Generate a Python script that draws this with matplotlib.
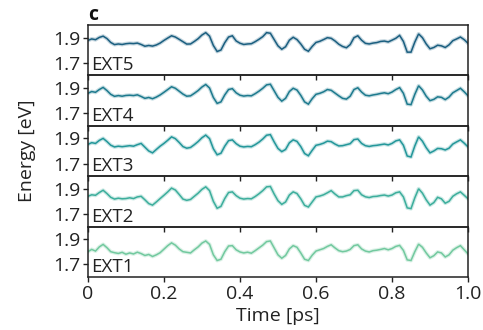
import numpy as np
import matplotlib
matplotlib.use("Agg")
import matplotlib.pyplot as plt

plt.rcParams['font.family'] = ['Open Sans', 'DejaVu Sans']

# sampling times [ps]
time_ps = [round(0.01 * i, 2) for i in range(101)]

ext5 = [
    1.878, 1.890, 1.884, 1.902, 1.912, 1.893, 1.862, 1.845, 1.850, 1.846,
    1.852, 1.855, 1.853, 1.857, 1.846, 1.832, 1.838, 1.833, 1.842, 1.857,
    1.878, 1.897, 1.915, 1.905, 1.887, 1.868, 1.849, 1.850, 1.870, 1.892,
    1.921, 1.940, 1.912, 1.838, 1.790, 1.802, 1.860, 1.905, 1.915, 1.874,
    1.856, 1.846, 1.850, 1.852, 1.868, 1.887, 1.908, 1.940, 1.935, 1.885,
    1.835, 1.808, 1.828, 1.880, 1.903, 1.885, 1.850, 1.808, 1.792, 1.830,
    1.862, 1.871, 1.885, 1.900, 1.895, 1.874, 1.848, 1.830, 1.820, 1.845,
    1.900, 1.915, 1.880, 1.855, 1.850, 1.857, 1.861, 1.870, 1.873, 1.866,
    1.880, 1.895, 1.918, 1.870, 1.785, 1.785, 1.865, 1.930, 1.900, 1.850,
    1.812, 1.822, 1.840, 1.835, 1.822, 1.843, 1.876, 1.890, 1.905, 1.884,
    1.855]

ext4 = [
    1.858, 1.872, 1.866, 1.888, 1.905, 1.880, 1.850, 1.834, 1.840, 1.835,
    1.841, 1.843, 1.840, 1.846, 1.833, 1.818, 1.825, 1.815, 1.828, 1.845,
    1.866, 1.888, 1.910, 1.898, 1.875, 1.852, 1.835, 1.838, 1.858, 1.880,
    1.908, 1.928, 1.900, 1.825, 1.778, 1.790, 1.845, 1.888, 1.895, 1.862,
    1.843, 1.836, 1.840, 1.838, 1.855, 1.875, 1.898, 1.925, 1.930, 1.878,
    1.826, 1.796, 1.818, 1.872, 1.898, 1.884, 1.842, 1.790, 1.772, 1.815,
    1.850, 1.858, 1.870, 1.888, 1.882, 1.860, 1.838, 1.818, 1.812, 1.835,
    1.888, 1.902, 1.868, 1.843, 1.838, 1.845, 1.850, 1.857, 1.862, 1.855,
    1.868, 1.888, 1.903, 1.858, 1.772, 1.768, 1.850, 1.918, 1.885, 1.835,
    1.800, 1.810, 1.830, 1.826, 1.808, 1.828, 1.862, 1.880, 1.898, 1.870,
    1.838]

ext3 = [
    1.852, 1.866, 1.860, 1.884, 1.900, 1.875, 1.846, 1.832, 1.838, 1.834,
    1.838, 1.842, 1.838, 1.850, 1.860, 1.830, 1.800, 1.785, 1.812, 1.838,
    1.860, 1.885, 1.912, 1.898, 1.868, 1.835, 1.822, 1.828, 1.850, 1.875,
    1.905, 1.926, 1.898, 1.818, 1.770, 1.782, 1.838, 1.882, 1.888, 1.858,
    1.838, 1.832, 1.836, 1.834, 1.850, 1.870, 1.895, 1.925, 1.930, 1.872,
    1.820, 1.795, 1.812, 1.865, 1.888, 1.876, 1.835, 1.780, 1.762, 1.805,
    1.845, 1.852, 1.862, 1.878, 1.874, 1.855, 1.840, 1.842, 1.850, 1.858,
    1.890, 1.895, 1.860, 1.842, 1.836, 1.842, 1.845, 1.850, 1.855, 1.848,
    1.860, 1.880, 1.888, 1.845, 1.760, 1.752, 1.840, 1.912, 1.878, 1.826,
    1.785, 1.800, 1.820, 1.818, 1.808, 1.822, 1.855, 1.872, 1.888, 1.862,
    1.832]

ext2 = [
    1.840, 1.852, 1.848, 1.870, 1.888, 1.862, 1.832, 1.818, 1.825, 1.820,
    1.822, 1.828, 1.822, 1.835, 1.840, 1.812, 1.782, 1.770, 1.795, 1.822,
    1.848, 1.875, 1.905, 1.890, 1.855, 1.818, 1.808, 1.815, 1.840, 1.865,
    1.895, 1.915, 1.885, 1.800, 1.745, 1.760, 1.822, 1.870, 1.875, 1.845,
    1.825, 1.818, 1.822, 1.820, 1.838, 1.860, 1.885, 1.915, 1.918, 1.858,
    1.805, 1.776, 1.795, 1.850, 1.875, 1.862, 1.820, 1.768, 1.755, 1.795,
    1.835, 1.842, 1.852, 1.868, 1.885, 1.858, 1.835, 1.835, 1.845, 1.852,
    1.885, 1.888, 1.852, 1.836, 1.830, 1.838, 1.840, 1.846, 1.850, 1.842,
    1.850, 1.868, 1.875, 1.835, 1.748, 1.742, 1.828, 1.900, 1.865, 1.812,
    1.770, 1.790, 1.832, 1.820, 1.785, 1.800, 1.840, 1.860, 1.875, 1.848,
    1.820]

ext1 = [
    1.800, 1.818, 1.805, 1.838, 1.858, 1.832, 1.800, 1.792, 1.786, 1.795,
    1.780, 1.790, 1.782, 1.796, 1.785, 1.770, 1.778, 1.762, 1.775, 1.792,
    1.820, 1.848, 1.870, 1.852, 1.822, 1.800, 1.795, 1.790, 1.815, 1.838,
    1.868, 1.885, 1.858, 1.775, 1.730, 1.740, 1.800, 1.845, 1.848, 1.815,
    1.798, 1.790, 1.796, 1.788, 1.808, 1.830, 1.852, 1.880, 1.885, 1.830,
    1.775, 1.748, 1.770, 1.822, 1.848, 1.835, 1.790, 1.740, 1.730, 1.772,
    1.805, 1.815, 1.825, 1.842, 1.855, 1.830, 1.808, 1.800, 1.805, 1.818,
    1.848, 1.855, 1.822, 1.805, 1.798, 1.808, 1.812, 1.818, 1.825, 1.815,
    1.825, 1.842, 1.850, 1.810, 1.735, 1.730, 1.800, 1.860, 1.835, 1.790,
    1.752, 1.768, 1.798, 1.790, 1.758, 1.775, 1.812, 1.832, 1.848, 1.815,
    1.782]

labels = ["EXT5", "EXT4", "EXT3", "EXT2", "EXT1"]
series = [ext5, ext4, ext3, ext2, ext1]
colors = ["#1b5f80", "#1d7a8e", "#23979a", "#3cae9c", "#72c99f"]
yticks = [1.7, 1.9]
xticks = [0, 0.2, 0.4, 0.6, 0.8, 1.0]
xtick_labels = ["0", "0.2", "0.4", "0.6", "0.8", "1.0"]

fig = plt.figure(figsize=(4.83, 3.30), dpi=100)
gs = fig.add_gridspec(5, 1, left=0.182, right=0.969, top=0.924, bottom=0.161,
                      hspace=0.0)

ink = '#222222'
axes = []
for i, (lab, vals, col) in enumerate(zip(labels, series, colors)):
    ax = fig.add_subplot(gs[i, 0])
    ax.patch.set_alpha(0)
    # soft band under the trace, then the trace itself
    ax.plot(time_ps, vals, color=col, lw=2.8, alpha=0.25,
            solid_joinstyle='round')
    ax.plot(time_ps, vals, color=col, lw=1.1, solid_joinstyle='miter')
    ax.set_xlim(0, 1.0)
    ax.set_ylim(1.6, 2.0)
    ax.set_yticks(yticks)
    ax.set_yticklabels([f"{v:.1f}" for v in yticks])
    ax.set_xticks(xticks)
    if i < 4:
        ax.set_xticklabels([])
    else:
        ax.set_xticklabels(xtick_labels)
    ax.tick_params(direction='out', length=3.5, width=1.0, labelsize=14,
                   colors=ink, pad=2)
    for s in ax.spines.values():
        s.set_linewidth(1.1)
        s.set_color(ink)
    ax.text(0.008, 0.02, lab, transform=ax.transAxes, fontsize=13.5,
            color=ink, ha='left', va='bottom')
    axes.append(ax)

axes[-1].set_xlabel("Time [ps]", fontsize=14, color=ink, labelpad=3)
fig.text(0.055, (0.924 + 0.161) / 2, "Energy [eV]", rotation=90,
         fontsize=14, color=ink, ha='center', va='center')
axes[0].text(0.0, 1.01, "c", transform=axes[0].transAxes, fontsize=14,
             fontweight='bold', ha='left', va='bottom', color='#111111')

fig.savefig("out.png", dpi=100)
